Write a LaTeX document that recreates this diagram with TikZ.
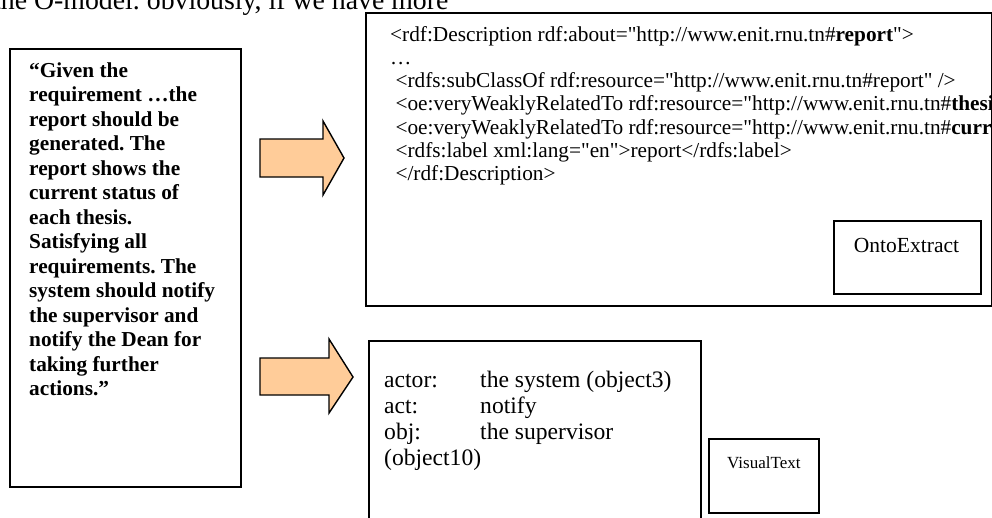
\documentclass[tikz,border=0pt]{standalone}
\usepackage{fontspec}
\setmainfont{Liberation Serif}[Ligatures=TeXOff]
\definecolor{arrowfill}{HTML}{FFCC99}
\begin{document}
\frenchspacing
\begin{tikzpicture}[x=1pt,y=-1pt,
  box/.style={draw=black, line width=2pt, inner sep=0pt, anchor=north west},
  blockarrow/.style={draw=black, fill=arrowfill, line width=1.4pt, line join=miter},
  txt/.style={inner sep=0pt, anchor=north west, align=left},
  lbl/.style={inner sep=0pt, anchor=base}]
\useasboundingbox (0,0) rectangle (992,517);
\clip (0,0) rectangle (992,517);

% running text of the page above the figure
\node[inner sep=0pt, anchor=base west, font=\fontsize{27.8}{32}\selectfont] (body) at (-7,9.5) {the O-model. obviously, if we have more};

% requirement text box
\node[box, minimum width=231pt, minimum height=438pt] (req) at (9,48) {};
\node[txt, font=\bfseries\fontsize{21.3}{24.5}\selectfont] (reqtext) at (29,59.85)
{\strut “Given the\\
requirement …the\\
report should be\\
generated. The\\
report shows the\\
current status of\\
each thesis.\\
Satisfying all\\
requirements. The\\
system should notify\\
the supervisor and\\
notify the Dean for\\
taking further\\
actions.”};

% arrows
\draw[blockarrow] (260,139) -- (323,139) -- (323,121) -- (344,158) -- (323,195) -- (323,177) -- (260,177) -- cycle;
\draw[blockarrow] (260,358) -- (329,358) -- (329,339) -- (353,377) -- (329,413) -- (329,395) -- (260,395) -- cycle;

% RDF box
\node[box, minimum width=626pt, minimum height=293pt] (rdf) at (365,12) {};
\begin{scope}
\clip (366,13) rectangle (990,304);
\node[txt, font=\fontsize{21.3}{23.3}\selectfont] (rdftext) at (390,24.5)
{\strut<rdf:Description rdf:about="http://www.enit.rnu.tn\#\textbf{report}">\\
…\\
\hspace*{0.25em}<rdfs:subClassOf rdf:resource="http://www.enit.rnu.tn\#report" />\\
\hspace*{0.25em}<oe:veryWeaklyRelatedTo rdf:resource="http://www.enit.rnu.tn\#\textbf{thesis}"/>\\
\hspace*{0.25em}<oe:veryWeaklyRelatedTo rdf:resource="http://www.enit.rnu.tn\#\textbf{currentStatus}"/>\\
\hspace*{0.25em}<rdfs:label xml:lang="en">report</rdfs:label>\\
\hspace*{0.25em}</rdf:Description>};
\end{scope}

% OntoExtract
\node[box, minimum width=147pt, minimum height=73pt] (ontobox) at (833,220) {};
\node[lbl, font=\fontsize{21.5}{24}\selectfont] (onto) at (906.5,252) {OntoExtract};

% actor box
\node[box, minimum width=332pt, minimum height=200pt] (actbox) at (368,340) {};
\node[txt, font=\fontsize{23.6}{26.2}\selectfont] (acttext) at (384,368.7)
{\strut\makebox[96pt][l]{actor:}the system (object3)\\
\makebox[96pt][l]{act:}notify\\
\makebox[96pt][l]{obj:}the supervisor\\
(object10)};

% VisualText
\node[box, minimum width=110pt, minimum height=74pt] (visbox) at (708,438) {};
\node[inner sep=0pt, anchor=base west, font=\fontsize{17}{20}\selectfont] (vis) at (727,468) {VisualText};
\end{tikzpicture}
\end{document}
